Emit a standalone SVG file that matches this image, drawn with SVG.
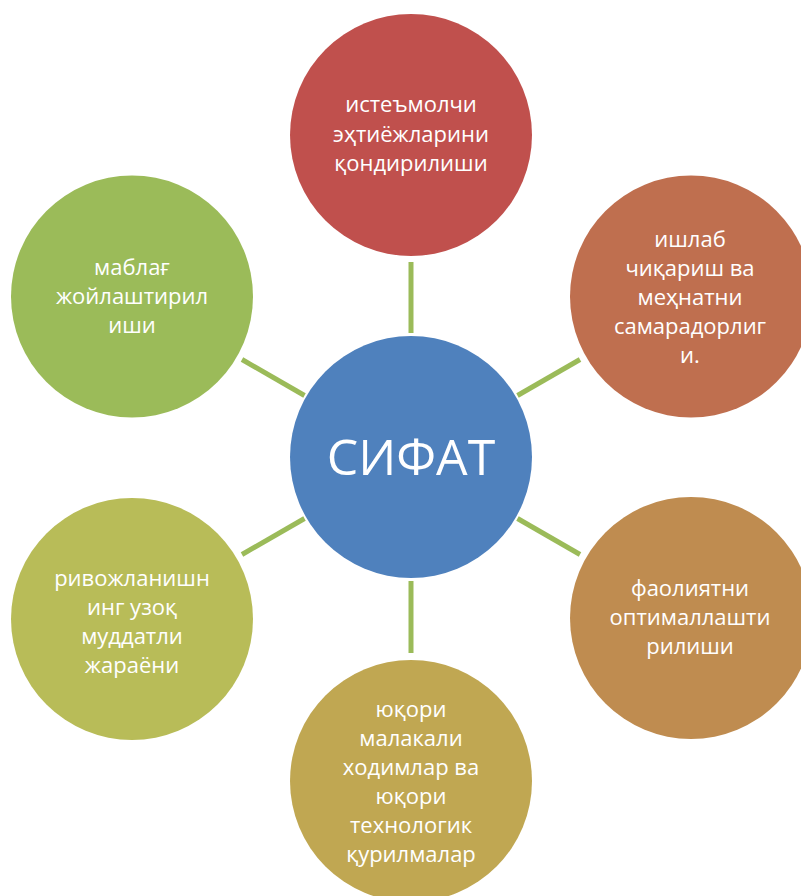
<svg xmlns="http://www.w3.org/2000/svg" width="801" height="896" viewBox="0 0 801 896">
<style>
.t{font-family:"Open Sans","Liberation Sans",sans-serif;font-size:22px;fill:#fff;text-anchor:middle}
.big{font-size:50px}
.c{stroke:#9BBB59;stroke-width:5;fill:none}
</style>
<rect width="801" height="896" fill="#fff"/>
<g id="connectors">
<line class="c" x1="411" y1="333" x2="411" y2="262"/>
<line class="c" x1="411" y1="581" x2="411" y2="653"/>
<line class="c" x1="304.5" y1="395.5" x2="242" y2="359.5"/>
<line class="c" x1="517.5" y1="395.5" x2="580" y2="359.5"/>
<line class="c" x1="304.5" y1="518.5" x2="242" y2="554.5"/>
<line class="c" x1="517.5" y1="518.5" x2="580" y2="554.5"/>
</g>
<g id="center">
<circle cx="411" cy="457" r="121" fill="#4F81BD"/>
<text class="t big" x="411" y="475">СИФАТ</text>
</g>
<g id="top">
<circle cx="411" cy="135" r="121" fill="#C0504D"/>
<text class="t" x="411" y="112">истеъмолчи</text>
<text class="t" x="411" y="142">эҳтиёжларини</text>
<text class="t" x="411" y="171">қондирилиши</text>
</g>
<g id="right-top">
<circle cx="691" cy="296.5" r="121" fill="#BF6F4F"/>
<text class="t" x="690" y="247">ишлаб</text>
<text class="t" x="690" y="276">чиқариш ва</text>
<text class="t" x="690" y="305">меҳнатни</text>
<text class="t" x="690" y="334">самарадорлиг</text>
<text class="t" x="690" y="363">и.</text>
</g>
<g id="right-bottom">
<circle cx="691" cy="618" r="121" fill="#BF8C50"/>
<text class="t" x="690" y="596">фаолиятни</text>
<text class="t" x="690" y="625">оптималлашти</text>
<text class="t" x="690" y="654">рилиши</text>
</g>
<g id="bottom">
<circle cx="411" cy="781" r="121" fill="#C0A752"/>
<text class="t" x="411" y="717">юқори</text>
<text class="t" x="411" y="746">малакали</text>
<text class="t" x="411" y="775">ходимлар ва</text>
<text class="t" x="411" y="804">юқори</text>
<text class="t" x="411" y="833">технологик</text>
<text class="t" x="411" y="862">қурилмалар</text>
</g>
<g id="left-bottom">
<circle cx="132" cy="619" r="121" fill="#B8BC58"/>
<text class="t" x="132" y="586">ривожланишн</text>
<text class="t" x="132" y="615">инг узоқ</text>
<text class="t" x="132" y="644">муддатли</text>
<text class="t" x="132" y="673">жараёни</text>
</g>
<g id="left-top">
<circle cx="132" cy="296.5" r="121" fill="#9BBB59"/>
<text class="t" x="132" y="275">маблағ</text>
<text class="t" x="132" y="304">жойлаштирил</text>
<text class="t" x="132" y="333">иши</text>
</g>
</svg>
